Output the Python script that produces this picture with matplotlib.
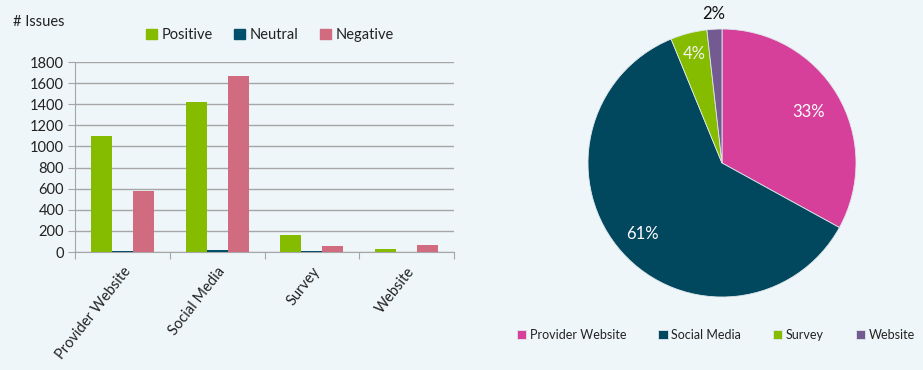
import matplotlib
matplotlib.use("Agg")
import matplotlib.pyplot as plt
import numpy as np
from matplotlib.patches import Patch

plt.rcParams['font.family'] = ['Lato', 'DejaVu Sans']

categories = ["Provider Website", "Social Media", "Survey", "Website"]
positive = [1095, 1420, 160, 25]
neutral = [10, 20, 8, 2]
negative = [580, 1670, 55, 65]
series_names = ["Positive", "Neutral", "Negative"]
yticks = [0, 200, 400, 600, 800, 1000, 1200, 1400, 1600, 1800]

pie_labels = ["Provider Website", "Social Media", "Survey", "Website"]
pie_shares = [33.0, 60.8, 4.4, 1.8]

bg = "#EEF6F9"
bar_colors = ["#85BC00", "#00506B", "#D06B80"]
pie_colors = ["#D6409A", "#01475E", "#86BC00", "#735A91"]
text_col = "#222222"
grid_col = "#A6A6A6"

fig = plt.figure(figsize=(9.23, 3.70), dpi=100, facecolor=bg)

# ---- Bar chart ----
ax = fig.add_axes([75/923, 1-252/370, (454-75)/923, (252-62)/370])
ax.set_facecolor(bg)
x = np.arange(len(categories))
w = 0.221
for i, (vals, name) in enumerate(zip([positive, neutral, negative], series_names)):
    ax.bar(x + (i-1)*w, vals, width=w, color=bar_colors[i], label=name, zorder=3)
ax.set_xlim(-0.5, len(categories)-0.5)
ax.set_ylim(0, 1800)
ax.set_yticks(yticks)
ax.set_yticklabels([str(v) for v in yticks], fontsize=10.5, color=text_col)
ax.yaxis.grid(True, color=grid_col, linewidth=1, zorder=0)
ax.tick_params(axis='y', length=5, color=grid_col, pad=3)
ax.set_xticks(np.arange(-0.5, len(categories), 1.0), minor=False)
ax.set_xticklabels([])
ax.tick_params(axis='x', length=5, color=grid_col, direction='out')
for s in ['top', 'right']:
    ax.spines[s].set_visible(False)
for s in ['left', 'bottom']:
    ax.spines[s].set_color(grid_col)
for xi, lab in zip(x, categories):
    ax.text(xi + 0.06, -0.09, lab, transform=ax.get_xaxis_transform(),
            rotation=52, rotation_mode='anchor', ha='right', va='center',
            fontsize=10.5, color=text_col)
fig.text(13/923, 1-22/370, "# Issues", fontsize=10.5, color=text_col, va='center', ha='left')
handles = [Patch(color=c) for c in bar_colors]
fig.legend(handles, series_names, loc='center', bbox_to_anchor=(270/923, 1-35/370),
           ncol=3, frameon=False, fontsize=10.5, handlelength=0.75, handleheight=0.75,
           handletextpad=0.3, columnspacing=1.5, labelcolor=text_col)

# ---- Pie chart ----
r = 134
pax = fig.add_axes([(722-r)/923, 1-(163+r)/370, 2*r/923, 2*r/370])
pax.set_facecolor(bg)
wedges, texts, autotexts = pax.pie(pie_shares, colors=pie_colors, startangle=90,
                                   counterclock=False, autopct='%1.0f%%',
                                   pctdistance=0.8, radius=1,
                                   wedgeprops=dict(linewidth=0.6, edgecolor="#E0E8EC"),
                                   textprops=dict(fontsize=12, color='white'))
pax.set_xlim(-1, 1)
pax.set_ylim(-1, 1)
pax.set_aspect('equal')
dists = [0.75, 0.8, 0.84, 1.11]
for i, t in enumerate(autotexts):
    xx, yy = t.get_position()
    rr = np.hypot(xx, yy)
    t.set_position((xx/rr*dists[i], yy/rr*dists[i]))
    if i == 3:
        t.set_color('#111111')
    if i == 2:
        t.set_color('#F2F2F2')
    t.set_clip_on(False)
pax.legend(wedges, pie_labels, loc='center', bbox_to_anchor=(716/923, 1-335/370),
           bbox_transform=fig.transFigure, ncol=4, frameon=False, fontsize=9,
           handlelength=0.75, handleheight=0.75, handletextpad=0.3,
           columnspacing=2.55, labelcolor=text_col)

fig.savefig("out.png", dpi=100, facecolor=bg)
